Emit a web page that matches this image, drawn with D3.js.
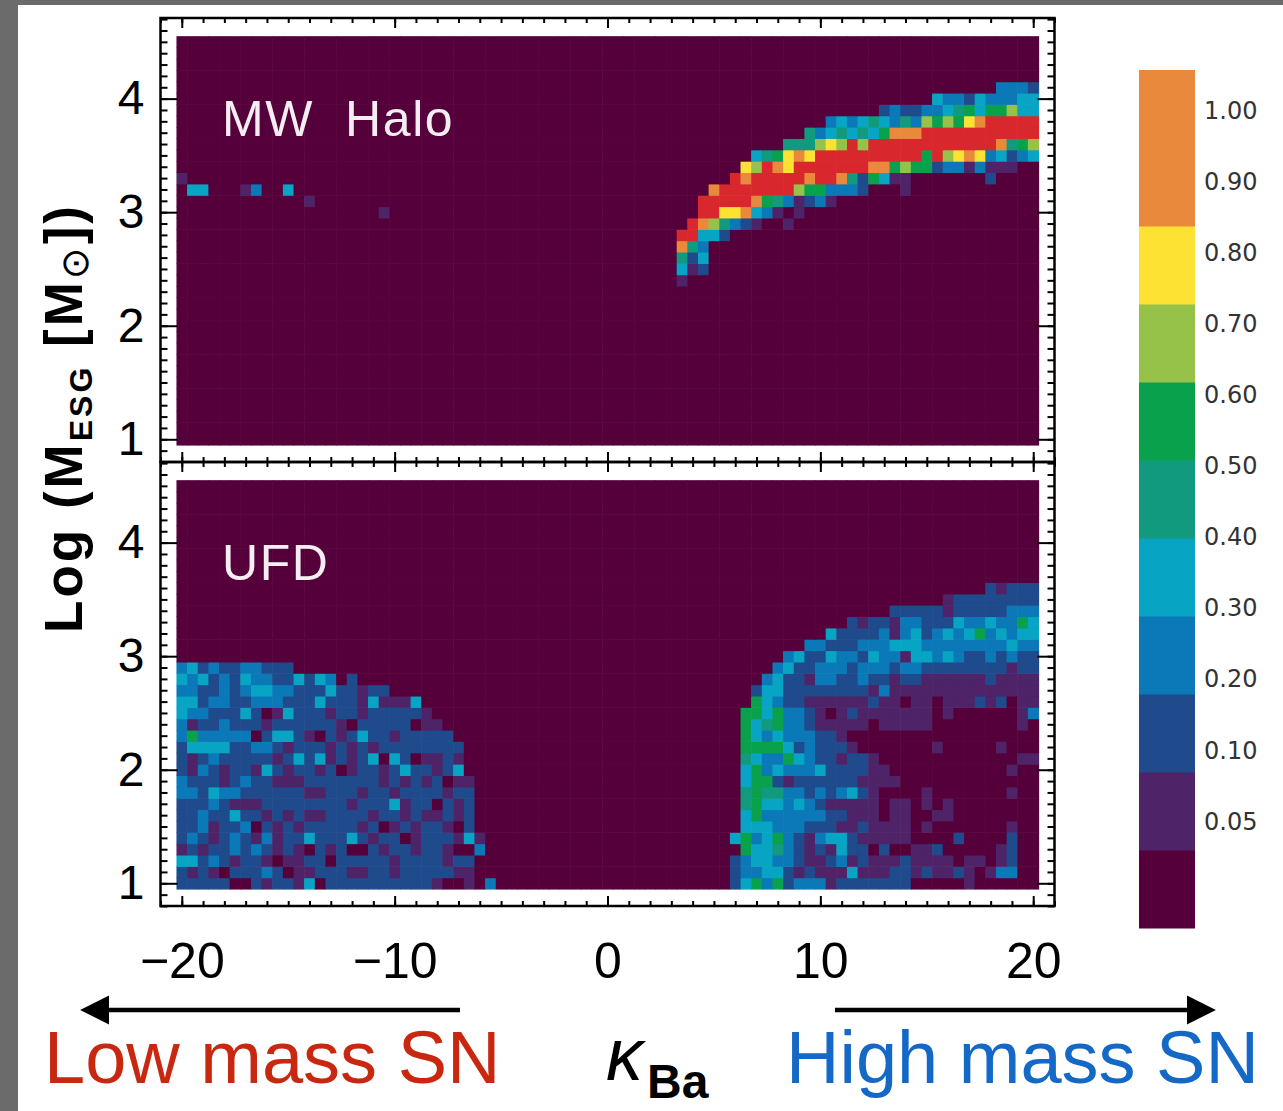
<!DOCTYPE html>
<html>
<head>
<meta charset="utf-8">
<script src="https://cdn.jsdelivr.net/npm/d3@7"></script>
<style>
  body { margin: 0; background: #fff; }
  svg { display: block; }
</style>
</head>
<body>
<div id="chart"></div>
<script>
// kappa_Ba grid: 81 bins of 0.5 centred on -20..20, log M grid: 36 bins of 0.1 centred on 1.0..4.5
const kappaStart = -20;
const kappaStep = 0.5;
const kappaBins = 81;
const logMStart = 1.0;
const logMStep = 0.1;
const logMBins = 36;

const kappaDomain = [-21, 21];
const logMDomain = [0.8, 4.71];
const kappaMajorTicks = [-20, -10, 0, 10, 20];
const logMMajorTicks = [1, 2, 3, 4];

// colour levels: 0 = below 0.05 ... 9 = 0.9-1.0, a = above (red)
const levelColors = ["#55003b", "#4f2367", "#1f4a8c", "#0b79b7", "#07a4c4", "#119a7d",
  "#0aa14d", "#97c24a", "#fde234", "#e9893b", "#d8282d"];
const colorbarLevels = [0, 1, 2, 3, 4, 5, 6, 7, 8, 9, 9];
const colorbarLabels = ["0.05", "0.10", "0.20", "0.30", "0.40", "0.50", "0.60", "0.70", "0.80", "0.90", "1.00"];

// non-empty runs: [log M bin, first kappa bin, levels]
const haloRuns = [
  [31, 77, "3332"],
  [30, 71, "4332433344"],
  [29, 66, "232233456466744"],
  [28, 61, "343454353767689aaaaa"],
  [27, 59, "53454546999aaaaaaaaaaa"],
  [26, 57, "555787a7aaaaaaaaaaaa9567"],
  [25, 54, "456898aaaaaaaaaa6a789834234"],
  [24, 53, "87a98aaaaaaa99676623313111"],
  [23, 52, "a9aaaaa9aa9526411"],
  [23, 76, "2"],
  [22, 50, "9aaaaaaa7663332"],
  [22, 68, "1"],
  [21, 49, "aaaaa96531231"],
  [20, 49, "aa88943101"],
  [19, 48, "a975321001"],
  [18, 47, "aa442"],
  [17, 47, "953"],
  [16, 47, "524"],
  [15, 47, "412"],
  [14, 47, "1"],
  [23, 0, "1"],
  [22, 1, "44"],
  [22, 6, "13"],
  [22, 10, "4"],
  [21, 12, "1"],
  [20, 19, "1"]
];

const ufdRuns = [
  [19, 0, "34232233222"],
  [18, 0, "43423243322424302"],
  [17, 0, "33223234433222422122"],
  [16, 0, "44233223332224222141114"],
  [15, 0, "433222420142221221222221"],
  [14, 0, "3122322212222221022222011"],
  [13, 0, "36333330244210212422122222"],
  [12, 0, "244442233212221212122222222"],
  [11, 0, "212322222124241212404201121"],
  [10, 0, "213212214212212012212422124"],
  [9, 0, "3222123221112222222121212011"],
  [8, 0, "3324332222221122212212222122"],
  [7, 0, "2223211122222222122241220212"],
  [6, 0, "2232242212121122221221211212"],
  [5, 0, "2231223021212222212012122102"],
  [4, 0, "23212321312242224212201222141"],
  [3, 0, "12122323212102120021221221003"],
  [2, 0, "4423212210112202222212222122"],
  [1, 0, "2121022232011222112212222211"],
  [0, 0, "222220021221402222222222100103"],
  [26, 76, "21222"],
  [25, 72, "122222222"],
  [24, 67, "22222122222333"],
  [23, 63, "212213322243343364"],
  [22, 61, "42222313423434634344"],
  [21, 59, "3322233344433333333433"],
  [20, 57, "342243324331443432232322"],
  [19, 56, "3422333233323322222222122"],
  [18, 55, "34221332232212211111121111"],
  [17, 54, "244222222221311111111111111"],
  [16, 54, "643221111112110110111212011"],
  [15, 53, "6646332101211111110100000013"],
  [14, 53, "6456332111110111110000000010"],
  [13, 53, "6434333221"],
  [12, 53, "66664232221"],
  [12, 71, "1"],
  [12, 77, "1"],
  [11, 53, "5433643221221"],
  [11, 79, "11"],
  [10, 53, "46343334222211"],
  [10, 78, "1"],
  [9, 53, "466212222221111"],
  [8, 53, "565533232342100001"],
  [8, 78, "1"],
  [7, 53, "56443432111110110101"],
  [6, 53, "46333333221110110011"],
  [5, 53, "444333222112111101"],
  [5, 78, "1"],
  [4, 52, "4634632134421111100002"],
  [4, 78, "2"],
  [3, 52, "064453212142202001120000012"],
  [2, 52, "234433211231211121111011012"],
  [1, 52, "233442121114111221211210133"],
  [0, 52, "24636233312222222"],
  [0, 74, "1"]
];

const panels = [
  { name: "MW  Halo", runs: haloRuns, top: 18, bottom: 462 },
  { name: "UFD", runs: ufdRuns, top: 462, bottom: 906 }
];

function buildCells(runs) {
  const grid = d3.range(logMBins).map(() => d3.range(kappaBins).map(() => 0));
  runs.forEach(([r, c, s]) => {
    s.split("").forEach((ch, k) => {
      grid[r][c + k] = parseInt(ch, 11);
    });
  });
  const cells = [];
  grid.forEach((row, r) => {
    row.forEach((level, c) => {
      cells.push({ kappa: kappaStart + c * kappaStep, logM: logMStart + r * logMStep, level });
    });
  });
  return cells;
}

const width = 1283;
const height = 1111;
const svg = d3.select("#chart").append("svg")
  .attr("width", width)
  .attr("height", height)
  .style("font-family", "'Liberation Sans', Arial, sans-serif");

svg.append("rect").attr("width", width).attr("height", height).attr("fill", "#fff");
// grey slide border
svg.append("rect").attr("x", 0).attr("y", 0).attr("width", 18).attr("height", height).attr("fill", "#6b6b6b");
svg.append("rect").attr("x", 0).attr("y", 0).attr("width", width).attr("height", 5).attr("fill", "#6b6b6b");

const x = d3.scaleLinear().domain(kappaDomain).range([160.5, 1054.5]);
const color = (level) => levelColors[level];

function styleAxis(g, fontSize) {
  g.select(".domain").remove();
  g.selectAll(".tick line").attr("stroke", "#000").attr("stroke-width", 2);
  g.selectAll(".tick text")
    .attr("fill", "#000")
    .style("font-size", fontSize + "px")
    .style("font-family", "'Liberation Sans', Arial, sans-serif");
}

panels.forEach((p, pi) => {
  const y = d3.scaleLinear().domain(logMDomain).range([p.bottom, p.top]);
  const g = svg.append("g");

  g.selectAll("rect.cell")
    .data(buildCells(p.runs))
    .enter()
    .append("rect")
    .attr("class", "cell")
    .attr("x", (d) => x(d.kappa - kappaStep / 2))
    .attr("y", (d) => y(d.logM + logMStep / 2))
    .attr("width", (d) => x(d.kappa + kappaStep / 2) - x(d.kappa - kappaStep / 2) + 0.6)
    .attr("height", (d) => y(d.logM - logMStep / 2) - y(d.logM + logMStep / 2) + 0.6)
    .attr("fill", (d) => color(d.level));

  g.append("text")
    .attr("x", 222)
    .attr("y", y(4) + 37)
    .attr("fill", "#f4eef2")
    .style("font-size", "50px")
    .style("letter-spacing", "1.6px")
    .style("white-space", "pre")
    .attr("xml:space", "preserve")
    .text(p.name);

  const minorY = d3.range(8, 48).map((v) => v / 10);
  const minorX = d3.range(-21, 22);

  // left / right
  g.append("g").attr("transform", `translate(${x.range()[0]},0)`)
    .call(d3.axisLeft(y).tickValues(minorY).tickSizeInner(-7).tickFormat(""))
    .call((a) => styleAxis(a, 10));
  g.append("g").attr("transform", `translate(${x.range()[0]},0)`)
    .call(d3.axisLeft(y).tickValues(logMMajorTicks).tickSizeInner(-17).tickPadding(16).tickFormat(d3.format("d")))
    .call((a) => styleAxis(a, 48));
  g.append("g").attr("transform", `translate(${x.range()[1]},0)`)
    .call(d3.axisRight(y).tickValues(minorY).tickSizeInner(-7).tickFormat(""))
    .call((a) => styleAxis(a, 10));
  g.append("g").attr("transform", `translate(${x.range()[1]},0)`)
    .call(d3.axisRight(y).tickValues(logMMajorTicks).tickSizeInner(-17).tickFormat(""))
    .call((a) => styleAxis(a, 10));

  // top / bottom
  g.append("g").attr("transform", `translate(0,${p.top})`)
    .call(d3.axisTop(x).tickValues(minorX).tickSizeInner(-5).tickFormat(""))
    .call((a) => styleAxis(a, 10));
  g.append("g").attr("transform", `translate(0,${p.top})`)
    .call(d3.axisTop(x).tickValues(kappaMajorTicks).tickSizeInner(-10).tickFormat(""))
    .call((a) => styleAxis(a, 10));
  g.append("g").attr("transform", `translate(0,${p.bottom})`)
    .call(d3.axisBottom(x).tickValues(minorX).tickSizeInner(-5).tickFormat(""))
    .call((a) => styleAxis(a, 10));
  g.append("g").attr("transform", `translate(0,${p.bottom})`)
    .call(d3.axisBottom(x).tickValues(kappaMajorTicks).tickSizeInner(-10).tickPadding(36)
      .tickFormat(pi === panels.length - 1 ? d3.format("d") : ""))
    .call((a) => styleAxis(a, 50));

  g.append("rect")
    .attr("x", x.range()[0])
    .attr("y", p.top)
    .attr("width", x.range()[1] - x.range()[0])
    .attr("height", p.bottom - p.top)
    .attr("fill", "none")
    .attr("stroke", "#000")
    .attr("stroke-width", 2.5);
});

// y axis title
const yTitle = svg.append("text")
  .attr("transform", "translate(82,418) rotate(-90)")
  .attr("text-anchor", "middle")
  .attr("fill", "#000")
  .style("font-size", "53px")
  .style("letter-spacing", "3px")
  .style("font-weight", "bold")
  .style("white-space", "pre")
  .attr("xml:space", "preserve");
yTitle.append("tspan").text("Log (M");
yTitle.append("tspan").attr("dy", 10).style("font-size", "32px").text("ESG");
yTitle.append("tspan").attr("dy", -10).text(" [M");
yTitle.append("tspan").attr("dy", 6).style("font-size", "38px")
  .style("font-family", "'DejaVu Sans', sans-serif").style("font-weight", "normal").text("\u2299");
yTitle.append("tspan").attr("dy", -6).text("])");

// colour bar
const cb = d3.scaleBand().domain(d3.range(colorbarLevels.length)).range([928, 70]);
svg.append("g")
  .selectAll("rect")
  .data(colorbarLevels)
  .enter()
  .append("rect")
  .attr("x", 1139)
  .attr("y", (d, i) => cb(i))
  .attr("width", 56)
  .attr("height", cb.bandwidth() + 0.5)
  .attr("fill", (d) => color(d));

const cbLabel = d3.scalePoint().domain(colorbarLabels).range([821, 110]);
svg.append("g")
  .selectAll("text")
  .data(colorbarLabels)
  .enter()
  .append("text")
  .attr("x", 1204)
  .attr("y", (d) => cbLabel(d))
  .attr("dy", "0.36em")
  .attr("fill", "#333")
  .style("font-family", "'DejaVu Sans', sans-serif")
  .style("font-size", "24px")
  .text((d) => d);

// x axis title and SN arrows
const defs = svg.append("defs");
defs.append("marker")
  .attr("id", "head")
  .attr("viewBox", "0 0 10 10")
  .attr("refX", 8)
  .attr("refY", 5)
  .attr("markerWidth", 6.5)
  .attr("markerHeight", 6.5)
  .attr("markerUnits", "strokeWidth")
  .attr("orient", "auto")
  .append("path")
  .attr("d", "M0,0 L10,5 L0,10 Z")
  .attr("fill", "#000");

const arrows = [
  { from: 460, to: 86 },
  { from: 835, to: 1210 }
];
svg.append("g")
  .selectAll("line")
  .data(arrows)
  .enter()
  .append("line")
  .attr("x1", (d) => d.from)
  .attr("x2", (d) => d.to)
  .attr("y1", 1010)
  .attr("y2", 1010)
  .attr("stroke", "#000")
  .attr("stroke-width", 4.5)
  .attr("marker-end", "url(#head)");

svg.append("text")
  .attr("x", 44)
  .attr("y", 1083)
  .attr("fill", "#c8280f")
  .style("font-size", "74px")
  .text("Low mass SN");
svg.append("text")
  .attr("x", 786)
  .attr("y", 1083)
  .attr("fill", "#1468c6")
  .style("font-size", "74px")
  .text("High mass SN");

const kTitle = svg.append("text")
  .attr("x", 606)
  .attr("y", 1080)
  .attr("fill", "#000");
kTitle.append("tspan").style("font-size", "74px").style("font-style", "italic").text("\u03ba");
kTitle.append("tspan").attr("dx", 4).attr("dy", 18).style("font-size", "48px").style("font-weight", "bold").text("Ba");
</script>
</body>
</html>
